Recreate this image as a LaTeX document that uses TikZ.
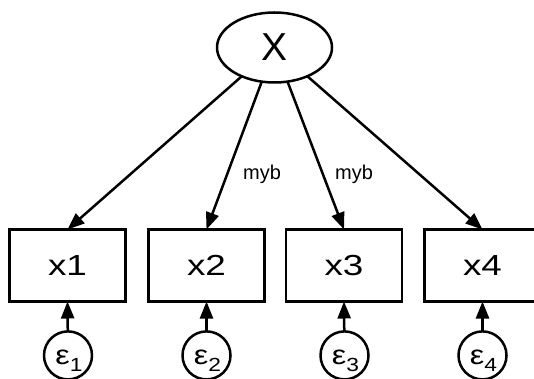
\documentclass[tikz,border=0pt]{standalone}
\usepackage{fontspec}
\setmainfont{Liberation Sans}
\usetikzlibrary{arrows.meta,shapes.geometric}
\newcommand{\epsi}[1]{\scalebox{1.2}[1]{ε\raisebox{-7pt}{\fontsize{19}{20}\selectfont #1}}}
\newcommand{\wide}[1]{\scalebox{1.27}[1]{#1}}
\begin{document}
\begin{tikzpicture}[x=1pt,y=-1pt,
  every node/.style={inner sep=0pt, outer sep=0pt},
  lat/.style={ellipse, draw, line width=2.5pt, minimum width=115pt, minimum height=70pt, font=\fontsize{39}{40}\selectfont},
  obs/.style={rectangle, draw, line width=2.5pt, minimum width=116pt, minimum height=72pt, font=\fontsize{29}{30}\selectfont},
  err/.style={circle, draw, line width=2.5pt, minimum size=48pt},
  errtxt/.style={font=\fontsize{27}{28}\selectfont},
  pth/.style={line width=2.5pt, -{Triangle[length=17pt,width=13pt]}},
  lab/.style={font=\fontsize{20}{22}\selectfont}]
\useasboundingbox (0,0) rectangle (534,379);
\node[lat] (X) at (274.5,47.5) {X};
\node[obs] (x1) at (67.5,265.5) {\wide{x1}};
\node[obs] (x2) at (206.5,265.5) {\wide{x2}};
\node[obs] (x3) at (344,265.5) {\wide{x3}};
\node[obs] (x4) at (482.5,265.5) {\wide{x4}};
\node[err] (e1) at (68,355.4) {};
\node[err] (e2) at (206.5,355.4) {};
\node[err] (e3) at (344.5,355.4) {};
\node[err] (e4) at (482.5,355.4) {};
\foreach \i in {1,2,3,4}{
  \node[errtxt] (t\i) at ([xshift=1pt,yshift=-5pt]e\i.center) {\epsi{\i}};
  \draw[pth] (e\i) -- (x\i.south);
  }
\draw[pth] (X) -- (x1.north);
\draw[pth] (X) -- (x2.north);
\draw[pth] (X) -- (x3.north);
\draw[pth] (X) -- (x4.north);
\node[lab] (l2) at (262,174) {myb};
\node[lab] (l3) at (354,174) {myb};
\end{tikzpicture}
\end{document}
